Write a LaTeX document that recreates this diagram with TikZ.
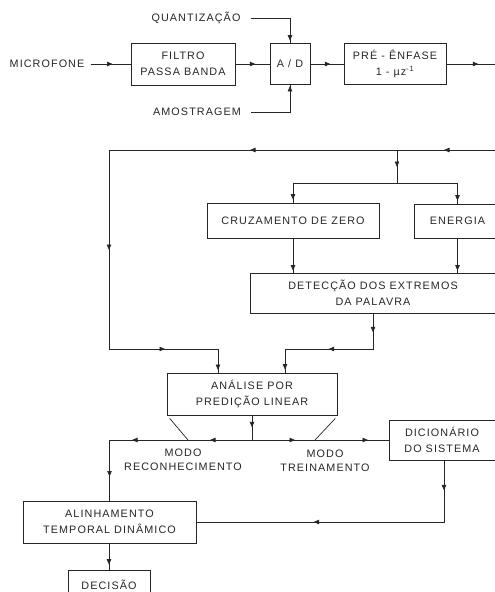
\documentclass[tikz,border=0pt]{standalone}
\usepackage{fontspec}
\setmainfont{Liberation Sans}
\newfontfamily\lbl[LetterSpace=10]{Liberation Sans}
\usetikzlibrary{arrows.meta,decorations.markings}
\tikzset{
  tipat/.style={postaction={decorate,decoration={markings,mark=at position #1 with {\arrow{Triangle[length=5.5pt,width=4.5pt]}}}}},
  wire/.style={draw=black!85, line width=0.7pt},
  blk/.style={draw=black!85, line width=0.7pt, rectangle, inner sep=0pt, align=center,
    font={\lbl\fontsize{10.8}{15.5}\selectfont}, text=black!85},
  lab/.style={inner sep=2pt, align=center, font={\lbl\fontsize{10.8}{14}\selectfont}, text=black!85},
}
\begin{document}
\begin{tikzpicture}[x=1pt,y=-1pt]
\useasboundingbox (0,0) rectangle (495,592);
\clip (0,0) rectangle (495,592);
% top row
\node[lab] (mic) at (47,64) {MICROFONE};
\node[blk, minimum width=104pt, minimum height=42pt] (filtro) at (183,64) {FILTRO\\PASSA BANDA};
\node[blk, minimum width=40pt, minimum height=41pt] (ad) at (290,64) {A / D};
\node[blk, minimum width=102pt, minimum height=41pt] (pre) at (395,64) {PRÉ - ÊNFASE\\1 - µz\textsuperscript{-1}};
\node[lab] (quant) at (196,18) {QUANTIZAÇÃO};
\node[lab] (amost) at (197,112) {AMOSTRAGEM};
\coordinate (out) at (495,64);
% middle
\node[blk, minimum width=172pt, minimum height=35pt] (cruz) at (293,220.5) {CRUZAMENTO DE ZERO};
\node[blk, minimum width=87pt, minimum height=34pt] (ener) at (457.5,221) {ENERGIA};
\node[blk, minimum width=246pt, minimum height=40pt] (det) at (373,293) {DETECÇÃO DOS EXTREMOS\\DA PALAVRA};
\node[blk, minimum width=170pt, minimum height=42pt] (ana) at (252,394) {ANÁLISE POR\\PREDIÇÃO LINEAR};
\node[blk, minimum width=106pt, minimum height=40pt] (dic) at (442,440) {DICIONÁRIO\\DO SISTEMA};
\node[blk, minimum width=173pt, minimum height=42pt] (alin) at (109.5,522) {ALINHAMENTO\\TEMPORAL DINÂMICO};
\node[blk, minimum width=82pt, minimum height=30pt] (dec) at (109,585) {DECISÃO};
\node[lab] (reco) at (183,460) {MODO\\RECONHECIMENTO};
\node[lab] (trei) at (325,461) {MODO\\TREINAMENTO};
% coordinates
\coordinate (tr) at (505,150);
\coordinate (tl) at (109,150);
\coordinate (lb) at (109,349);
\coordinate (b1) at (397,150);
\coordinate (b2) at (397,183);
\coordinate (bus) at (ana.south |- dic.west);
% top row wires
\draw[wire, tipat=22pt] ([xshift=4pt]mic.east) -- (filtro.west);
\draw[wire, tipat=20pt] (filtro) -- (ad);
\draw[wire, tipat=20pt] (ad) -- (pre);
\draw[wire, tipat=32pt] (pre) -- (out);
\draw[wire, tipat=62pt] ([xshift=8pt]quant.east) -| (ad.north);
\draw[wire, tipat=65pt] ([xshift=8pt]amost.east) -| (ad.south);
% feedback bus
\draw[wire, tipat=61pt, tipat=255pt, tipat=496pt, tipat=651pt, tipat=725pt]
  (tr) -- (tl) -- (lb) -| ([xshift=-34pt]ana.north);
\draw[wire, tipat=17pt] (b1) -- (b2);
\draw[wire, tipat=-3pt] (b2) -| (cruz.north);
\draw[wire, tipat=-3pt] (b2) -| (ener.north);
\draw[wire, tipat=-2pt] (cruz.south) -- (cruz.south |- det.north);
\draw[wire, tipat=-2pt] (ener.south) -- (ener.south |- det.north);
\draw[wire, tipat=19pt, tipat=80pt, tipat=-3pt]
  (det.south) -- (det.south |- lb) -| ([xshift=33pt]ana.north);
% analysis outputs
\draw[wire, tipat=12pt] (ana.south) -- (bus);
\draw[wire] ([shift={(3,3)}]ana.south west) -- ([xshift=-64pt]bus);
\draw[wire] ([shift={(-2,3)}]ana.south east) -- ([xshift=63pt]bus);
\draw[wire, tipat=42pt, tipat=120pt, tipat=179pt] (bus) -| (alin.north);
\draw[wire, tipat=43pt, tipat=116pt] (bus) -- (dic.west);
\draw[wire, tipat=30pt, tipat=192pt] ([xshift=2pt]dic.south) |- (alin.east);
\draw[wire, tipat=-5pt] (alin.south -| dec.north) -- (dec.north);
\end{tikzpicture}
\end{document}
